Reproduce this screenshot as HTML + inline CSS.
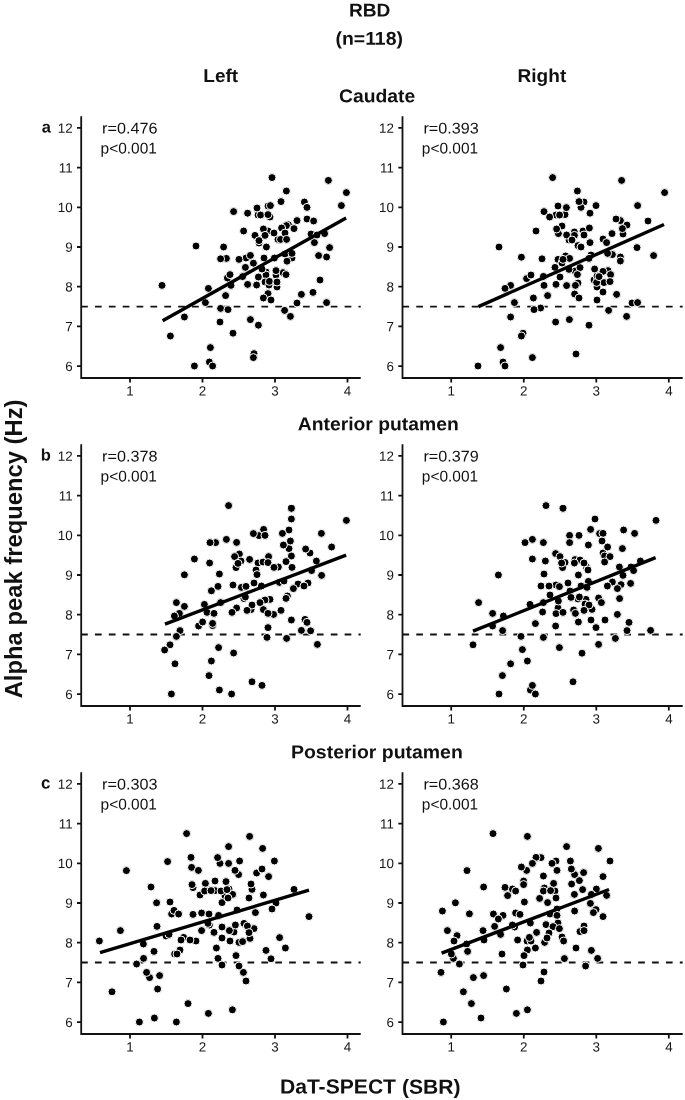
<!DOCTYPE html>
<html lang="en">
<head>
<meta charset="utf-8">
<title>RBD (n=118) – Alpha peak frequency vs DaT-SPECT (SBR)</title>
<style>
html,body{margin:0;padding:0;background:#fff}
body{width:685px;height:1100px;overflow:hidden}
svg{display:block;font-family:"Liberation Sans", sans-serif;filter:grayscale(1)}
.t{font-weight:700;fill:#111}
.tk{fill:#161616}
.st{fill:#111}
.ax{stroke:#111;stroke-width:1.8;fill:none;stroke-linecap:butt}
.d circle{fill:#000;stroke:#fff;stroke-width:1}
.rg{stroke:#000;stroke-width:3.4;stroke-linecap:butt}
.ds{stroke:#111;stroke-width:1.9;stroke-dasharray:6.7 7.17}
</style>
</head>
<body>
<svg width="685" height="1100" viewBox="0 0 685 1100">
<rect width="685" height="1100" fill="#fff"/>
<text class="t" transform="translate(369.60,16.40) rotate(0.05) scale(1.035,1)" font-size="18.5" text-anchor="middle">RBD</text>
<text class="t" transform="translate(369.20,44.80) rotate(0.05) scale(1.050,1)" font-size="18.5" text-anchor="middle">(n=118)</text>
<text class="t" transform="translate(220.70,82.00) rotate(0.05) scale(1.030,1)" font-size="18.5" text-anchor="middle">Left</text>
<text class="t" transform="translate(541.90,82.00) rotate(0.05) scale(1.030,1)" font-size="18.5" text-anchor="middle">Right</text>
<text class="t" transform="translate(377.10,102.20) rotate(0.05) scale(1.045,1)" font-size="18.5" text-anchor="middle">Caudate</text>
<text class="t" transform="translate(378.20,430.20) rotate(0.05) scale(1.045,1)" font-size="18.5" text-anchor="middle">Anterior putamen</text>
<text class="t" transform="translate(376.90,758.20) rotate(0.05) scale(1.052,1)" font-size="18.5" text-anchor="middle">Posterior putamen</text>
<text class="t" transform="translate(22.2,548.9) rotate(-90)" font-size="23.8" text-anchor="middle">Alpha peak frequency (Hz)</text>
<text class="t" transform="translate(370.20,1093.60) rotate(0.05) scale(1.035,1)" font-size="20.4" text-anchor="middle">DaT-SPECT (SBR)</text>
<text class="t" transform="translate(41.80,132.60) rotate(0.05) scale(1.000,1)" font-size="16.5" text-anchor="start">a</text>
<g>
<line class="ds" x1="81.1" y1="306.6" x2="360.7" y2="306.6"/>
<g class="d">
<circle cx="268.0" cy="206.0" r="4"/><circle cx="258.0" cy="215.0" r="4"/><circle cx="270.0" cy="217.0" r="4"/><circle cx="268.0" cy="231.0" r="4"/><circle cx="259.0" cy="243.0" r="4"/><circle cx="226.4" cy="258.4" r="4"/><circle cx="246.0" cy="258.0" r="4"/><circle cx="266.0" cy="272.0" r="4"/><circle cx="227.4" cy="278.0" r="4"/><circle cx="266.0" cy="275.0" r="4"/><circle cx="265.0" cy="282.0" r="4"/><circle cx="269.0" cy="285.0" r="4"/><circle cx="254.0" cy="353.6" r="4"/><circle cx="209.4" cy="362.0" r="4"/><circle cx="288.4" cy="224.8" r="4"/><circle cx="286.4" cy="225.6" r="4"/><circle cx="278.0" cy="239.4" r="4"/><circle cx="280.6" cy="239.4" r="4"/><circle cx="292.0" cy="258.0" r="4"/><circle cx="276.0" cy="275.0" r="4"/><circle cx="283.0" cy="272.6" r="4"/><circle cx="277.0" cy="287.0" r="4"/><circle cx="272.0" cy="177.6" r="4"/><circle cx="270.4" cy="205.6" r="4"/><circle cx="257.0" cy="208.0" r="4"/><circle cx="233.6" cy="211.6" r="4"/><circle cx="247.6" cy="213.2" r="4"/><circle cx="260.6" cy="215.0" r="4"/><circle cx="268.0" cy="214.6" r="4"/><circle cx="263.4" cy="229.0" r="4"/><circle cx="243.6" cy="231.0" r="4"/><circle cx="255.0" cy="235.4" r="4"/><circle cx="265.0" cy="235.4" r="4"/><circle cx="274.0" cy="233.0" r="4"/><circle cx="259.0" cy="240.6" r="4"/><circle cx="266.4" cy="247.0" r="4"/><circle cx="196.0" cy="246.0" r="4"/><circle cx="223.6" cy="247.0" r="4"/><circle cx="220.6" cy="258.8" r="4"/><circle cx="239.0" cy="259.4" r="4"/><circle cx="250.4" cy="255.4" r="4"/><circle cx="264.0" cy="258.0" r="4"/><circle cx="274.4" cy="258.0" r="4"/><circle cx="253.4" cy="263.2" r="4"/><circle cx="245.4" cy="267.4" r="4"/><circle cx="262.0" cy="269.0" r="4"/><circle cx="276.0" cy="270.6" r="4"/><circle cx="230.0" cy="274.6" r="4"/><circle cx="242.6" cy="276.6" r="4"/><circle cx="258.4" cy="277.0" r="4"/><circle cx="269.4" cy="281.4" r="4"/><circle cx="231.0" cy="285.4" r="4"/><circle cx="247.6" cy="284.4" r="4"/><circle cx="256.6" cy="285.0" r="4"/><circle cx="162.0" cy="285.4" r="4"/><circle cx="208.4" cy="288.4" r="4"/><circle cx="225.6" cy="295.6" r="4"/><circle cx="268.0" cy="293.6" r="4"/><circle cx="263.4" cy="298.0" r="4"/><circle cx="271.0" cy="300.0" r="4"/><circle cx="205.4" cy="302.6" r="4"/><circle cx="220.6" cy="308.4" r="4"/><circle cx="228.0" cy="309.6" r="4"/><circle cx="184.4" cy="317.0" r="4"/><circle cx="220.0" cy="322.0" r="4"/><circle cx="250.4" cy="319.6" r="4"/><circle cx="258.4" cy="325.2" r="4"/><circle cx="233.0" cy="333.2" r="4"/><circle cx="170.4" cy="336.0" r="4"/><circle cx="210.4" cy="347.6" r="4"/><circle cx="253.4" cy="357.6" r="4"/><circle cx="194.4" cy="366.0" r="4"/><circle cx="212.6" cy="366.0" r="4"/><circle cx="286.4" cy="191.0" r="4"/><circle cx="328.4" cy="180.4" r="4"/><circle cx="346.4" cy="192.6" r="4"/><circle cx="281.0" cy="201.6" r="4"/><circle cx="304.4" cy="202.0" r="4"/><circle cx="307.0" cy="207.4" r="4"/><circle cx="341.4" cy="205.6" r="4"/><circle cx="297.0" cy="220.6" r="4"/><circle cx="307.0" cy="219.0" r="4"/><circle cx="313.6" cy="221.0" r="4"/><circle cx="281.6" cy="228.0" r="4"/><circle cx="294.0" cy="228.6" r="4"/><circle cx="285.0" cy="233.0" r="4"/><circle cx="286.6" cy="239.4" r="4"/><circle cx="311.0" cy="234.0" r="4"/><circle cx="317.0" cy="235.0" r="4"/><circle cx="324.6" cy="233.6" r="4"/><circle cx="314.4" cy="242.6" r="4"/><circle cx="329.6" cy="247.6" r="4"/><circle cx="318.6" cy="255.6" r="4"/><circle cx="326.6" cy="257.0" r="4"/><circle cx="285.0" cy="254.0" r="4"/><circle cx="292.0" cy="253.4" r="4"/><circle cx="287.0" cy="261.2" r="4"/><circle cx="286.0" cy="274.6" r="4"/><circle cx="277.0" cy="282.0" r="4"/><circle cx="320.0" cy="280.0" r="4"/><circle cx="301.4" cy="294.4" r="4"/><circle cx="313.0" cy="292.4" r="4"/><circle cx="297.0" cy="303.0" r="4"/><circle cx="326.6" cy="302.6" r="4"/><circle cx="284.6" cy="310.4" r="4"/><circle cx="290.4" cy="316.4" r="4"/>
</g>
<line class="rg" x1="162.6" y1="320.8" x2="346.1" y2="218.0"/>
<path class="ax" d="M81.2 116.2V378.0H360.7M81.2 366.1h-4.2M81.2 326.4h-4.2M81.2 286.7h-4.2M81.2 247.0h-4.2M81.2 207.3h-4.2M81.2 167.6h-4.2M81.2 127.9h-4.2M130.0 378.0v4.4M202.5 378.0v4.4M275.0 378.0v4.4M347.5 378.0v4.4"/>
<text class="tk" transform="translate(72.60,370.90) rotate(0.05) scale(1.000,1)" font-size="13.4" text-anchor="end">6</text>
<text class="tk" transform="translate(72.60,331.20) rotate(0.05) scale(1.000,1)" font-size="13.4" text-anchor="end">7</text>
<text class="tk" transform="translate(72.60,291.50) rotate(0.05) scale(1.000,1)" font-size="13.4" text-anchor="end">8</text>
<text class="tk" transform="translate(72.60,251.80) rotate(0.05) scale(1.000,1)" font-size="13.4" text-anchor="end">9</text>
<text class="tk" transform="translate(72.60,212.10) rotate(0.05) scale(1.000,1)" font-size="13.4" text-anchor="end">10</text>
<text class="tk" transform="translate(72.60,172.40) rotate(0.05) scale(1.000,1)" font-size="13.4" text-anchor="end">11</text>
<text class="tk" transform="translate(72.60,132.70) rotate(0.05) scale(1.000,1)" font-size="13.4" text-anchor="end">12</text>
<text class="tk" transform="translate(130.00,395.60) rotate(0.05) scale(1.000,1)" font-size="13.4" text-anchor="middle">1</text>
<text class="tk" transform="translate(202.50,395.60) rotate(0.05) scale(1.000,1)" font-size="13.4" text-anchor="middle">2</text>
<text class="tk" transform="translate(275.00,395.60) rotate(0.05) scale(1.000,1)" font-size="13.4" text-anchor="middle">3</text>
<text class="tk" transform="translate(347.50,395.60) rotate(0.05) scale(1.000,1)" font-size="13.4" text-anchor="middle">4</text>
<text class="st" transform="translate(129.80,133.60) rotate(0.05) scale(1.045,1)" font-size="15.5" text-anchor="middle">r=0.476</text>
<text class="st" transform="translate(128.70,153.40) rotate(0.05) scale(0.997,1)" font-size="15.5" text-anchor="middle">p&lt;0.001</text>
</g>
<g>
<line class="ds" x1="402.4" y1="306.6" x2="682.7" y2="306.6"/>
<g class="d">
<circle cx="584.0" cy="202.0" r="4"/><circle cx="581.0" cy="207.4" r="4"/><circle cx="565.0" cy="214.6" r="4"/><circle cx="556.0" cy="215.0" r="4"/><circle cx="558.4" cy="233.6" r="4"/><circle cx="574.4" cy="232.0" r="4"/><circle cx="569.0" cy="240.0" r="4"/><circle cx="583.0" cy="231.0" r="4"/><circle cx="578.0" cy="245.6" r="4"/><circle cx="565.6" cy="256.0" r="4"/><circle cx="558.0" cy="259.4" r="4"/><circle cx="562.0" cy="263.0" r="4"/><circle cx="591.0" cy="255.0" r="4"/><circle cx="575.0" cy="271.0" r="4"/><circle cx="526.6" cy="278.6" r="4"/><circle cx="578.0" cy="283.0" r="4"/><circle cx="594.0" cy="280.0" r="4"/><circle cx="597.0" cy="276.0" r="4"/><circle cx="597.0" cy="287.0" r="4"/><circle cx="523.0" cy="333.2" r="4"/><circle cx="503.0" cy="362.0" r="4"/><circle cx="620.4" cy="220.6" r="4"/><circle cx="627.0" cy="225.0" r="4"/><circle cx="623.0" cy="234.0" r="4"/><circle cx="603.0" cy="239.0" r="4"/><circle cx="612.4" cy="254.6" r="4"/><circle cx="620.4" cy="257.0" r="4"/><circle cx="608.0" cy="270.6" r="4"/><circle cx="603.0" cy="271.4" r="4"/><circle cx="604.0" cy="282.6" r="4"/><circle cx="632.0" cy="303.0" r="4"/><circle cx="552.6" cy="177.6" r="4"/><circle cx="577.4" cy="191.0" r="4"/><circle cx="579.0" cy="201.6" r="4"/><circle cx="596.0" cy="205.6" r="4"/><circle cx="558.0" cy="206.0" r="4"/><circle cx="566.4" cy="207.6" r="4"/><circle cx="544.0" cy="211.6" r="4"/><circle cx="549.6" cy="217.0" r="4"/><circle cx="559.6" cy="215.0" r="4"/><circle cx="590.0" cy="213.2" r="4"/><circle cx="562.0" cy="226.0" r="4"/><circle cx="556.6" cy="229.0" r="4"/><circle cx="536.0" cy="231.0" r="4"/><circle cx="589.4" cy="228.0" r="4"/><circle cx="566.6" cy="235.0" r="4"/><circle cx="574.4" cy="235.4" r="4"/><circle cx="572.0" cy="240.0" r="4"/><circle cx="584.0" cy="235.0" r="4"/><circle cx="590.0" cy="242.6" r="4"/><circle cx="581.0" cy="247.0" r="4"/><circle cx="499.0" cy="247.0" r="4"/><circle cx="521.4" cy="257.2" r="4"/><circle cx="542.0" cy="258.8" r="4"/><circle cx="569.6" cy="258.4" r="4"/><circle cx="563.0" cy="259.4" r="4"/><circle cx="589.0" cy="258.4" r="4"/><circle cx="555.0" cy="267.4" r="4"/><circle cx="569.0" cy="269.4" r="4"/><circle cx="580.0" cy="267.6" r="4"/><circle cx="577.4" cy="274.6" r="4"/><circle cx="594.6" cy="269.0" r="4"/><circle cx="543.4" cy="276.4" r="4"/><circle cx="560.0" cy="277.0" r="4"/><circle cx="531.0" cy="275.0" r="4"/><circle cx="510.6" cy="285.4" r="4"/><circle cx="505.0" cy="288.4" r="4"/><circle cx="544.0" cy="285.4" r="4"/><circle cx="556.0" cy="284.4" r="4"/><circle cx="566.6" cy="285.6" r="4"/><circle cx="575.4" cy="285.4" r="4"/><circle cx="596.6" cy="282.4" r="4"/><circle cx="574.6" cy="294.0" r="4"/><circle cx="579.0" cy="298.0" r="4"/><circle cx="547.6" cy="295.6" r="4"/><circle cx="533.4" cy="298.0" r="4"/><circle cx="514.4" cy="302.6" r="4"/><circle cx="597.0" cy="300.0" r="4"/><circle cx="540.6" cy="308.0" r="4"/><circle cx="534.0" cy="309.6" r="4"/><circle cx="510.6" cy="317.0" r="4"/><circle cx="555.6" cy="322.0" r="4"/><circle cx="569.4" cy="319.6" r="4"/><circle cx="589.0" cy="325.2" r="4"/><circle cx="521.4" cy="336.0" r="4"/><circle cx="500.6" cy="347.6" r="4"/><circle cx="532.4" cy="357.6" r="4"/><circle cx="576.0" cy="354.0" r="4"/><circle cx="478.0" cy="366.0" r="4"/><circle cx="505.0" cy="366.0" r="4"/><circle cx="621.6" cy="180.4" r="4"/><circle cx="664.6" cy="192.6" r="4"/><circle cx="637.6" cy="205.6" r="4"/><circle cx="616.0" cy="219.0" r="4"/><circle cx="622.4" cy="228.6" r="4"/><circle cx="648.0" cy="221.0" r="4"/><circle cx="612.0" cy="233.6" r="4"/><circle cx="606.6" cy="242.6" r="4"/><circle cx="637.0" cy="247.6" r="4"/><circle cx="607.6" cy="253.4" r="4"/><circle cx="620.4" cy="261.0" r="4"/><circle cx="653.6" cy="255.6" r="4"/><circle cx="610.6" cy="274.6" r="4"/><circle cx="599.0" cy="276.6" r="4"/><circle cx="610.0" cy="281.6" r="4"/><circle cx="603.0" cy="292.0" r="4"/><circle cx="616.6" cy="294.4" r="4"/><circle cx="637.6" cy="302.6" r="4"/><circle cx="608.6" cy="310.4" r="4"/><circle cx="626.6" cy="316.4" r="4"/>
</g>
<line class="rg" x1="478.4" y1="306.6" x2="664.0" y2="224.5"/>
<path class="ax" d="M402.5 116.2V378.0H682.7M402.5 366.1h-4.2M402.5 326.4h-4.2M402.5 286.7h-4.2M402.5 247.0h-4.2M402.5 207.3h-4.2M402.5 167.6h-4.2M402.5 127.9h-4.2M451.2 378.0v4.4M523.8 378.0v4.4M596.3 378.0v4.4M668.8 378.0v4.4"/>
<text class="tk" transform="translate(393.90,370.90) rotate(0.05) scale(1.000,1)" font-size="13.4" text-anchor="end">6</text>
<text class="tk" transform="translate(393.90,331.20) rotate(0.05) scale(1.000,1)" font-size="13.4" text-anchor="end">7</text>
<text class="tk" transform="translate(393.90,291.50) rotate(0.05) scale(1.000,1)" font-size="13.4" text-anchor="end">8</text>
<text class="tk" transform="translate(393.90,251.80) rotate(0.05) scale(1.000,1)" font-size="13.4" text-anchor="end">9</text>
<text class="tk" transform="translate(393.90,212.10) rotate(0.05) scale(1.000,1)" font-size="13.4" text-anchor="end">10</text>
<text class="tk" transform="translate(393.90,172.40) rotate(0.05) scale(1.000,1)" font-size="13.4" text-anchor="end">11</text>
<text class="tk" transform="translate(393.90,132.70) rotate(0.05) scale(1.000,1)" font-size="13.4" text-anchor="end">12</text>
<text class="tk" transform="translate(451.20,395.60) rotate(0.05) scale(1.000,1)" font-size="13.4" text-anchor="middle">1</text>
<text class="tk" transform="translate(523.75,395.60) rotate(0.05) scale(1.000,1)" font-size="13.4" text-anchor="middle">2</text>
<text class="tk" transform="translate(596.30,395.60) rotate(0.05) scale(1.000,1)" font-size="13.4" text-anchor="middle">3</text>
<text class="tk" transform="translate(668.85,395.60) rotate(0.05) scale(1.000,1)" font-size="13.4" text-anchor="middle">4</text>
<text class="st" transform="translate(451.10,133.60) rotate(0.05) scale(1.045,1)" font-size="15.5" text-anchor="middle">r=0.393</text>
<text class="st" transform="translate(450.00,153.40) rotate(0.05) scale(0.997,1)" font-size="15.5" text-anchor="middle">p&lt;0.001</text>
</g>
<text class="t" transform="translate(40.70,460.60) rotate(0.05) scale(1.000,1)" font-size="16.5" text-anchor="start">b</text>
<g>
<line class="ds" x1="81.1" y1="634.5" x2="360.7" y2="634.5"/>
<g class="d">
<circle cx="259.0" cy="535.6" r="4"/><circle cx="215.6" cy="542.6" r="4"/><circle cx="239.4" cy="554.0" r="4"/><circle cx="241.0" cy="561.0" r="4"/><circle cx="258.0" cy="563.0" r="4"/><circle cx="263.0" cy="562.0" r="4"/><circle cx="236.0" cy="567.6" r="4"/><circle cx="256.0" cy="570.0" r="4"/><circle cx="241.4" cy="587.4" r="4"/><circle cx="244.0" cy="598.6" r="4"/><circle cx="270.0" cy="599.4" r="4"/><circle cx="265.0" cy="600.0" r="4"/><circle cx="236.6" cy="608.0" r="4"/><circle cx="251.0" cy="609.6" r="4"/><circle cx="273.6" cy="614.4" r="4"/><circle cx="179.4" cy="613.4" r="4"/><circle cx="198.6" cy="626.0" r="4"/><circle cx="212.6" cy="625.6" r="4"/><circle cx="289.0" cy="548.6" r="4"/><circle cx="310.0" cy="553.0" r="4"/><circle cx="278.4" cy="567.0" r="4"/><circle cx="279.4" cy="582.4" r="4"/><circle cx="298.0" cy="584.0" r="4"/><circle cx="308.0" cy="583.0" r="4"/><circle cx="287.4" cy="596.0" r="4"/><circle cx="305.0" cy="619.4" r="4"/><circle cx="228.6" cy="505.6" r="4"/><circle cx="263.6" cy="529.4" r="4"/><circle cx="253.4" cy="533.6" r="4"/><circle cx="265.0" cy="535.4" r="4"/><circle cx="226.4" cy="539.4" r="4"/><circle cx="236.6" cy="542.4" r="4"/><circle cx="210.0" cy="542.6" r="4"/><circle cx="234.6" cy="556.6" r="4"/><circle cx="194.4" cy="559.0" r="4"/><circle cx="268.6" cy="556.6" r="4"/><circle cx="249.6" cy="559.4" r="4"/><circle cx="238.0" cy="563.4" r="4"/><circle cx="209.6" cy="563.0" r="4"/><circle cx="268.0" cy="562.6" r="4"/><circle cx="274.0" cy="567.4" r="4"/><circle cx="257.0" cy="574.6" r="4"/><circle cx="219.4" cy="574.0" r="4"/><circle cx="184.4" cy="574.8" r="4"/><circle cx="254.0" cy="583.0" r="4"/><circle cx="233.0" cy="585.0" r="4"/><circle cx="218.0" cy="586.4" r="4"/><circle cx="246.0" cy="586.4" r="4"/><circle cx="261.4" cy="586.0" r="4"/><circle cx="211.4" cy="590.8" r="4"/><circle cx="245.4" cy="597.0" r="4"/><circle cx="260.0" cy="602.6" r="4"/><circle cx="176.4" cy="602.6" r="4"/><circle cx="184.4" cy="606.4" r="4"/><circle cx="204.4" cy="604.4" r="4"/><circle cx="220.6" cy="602.6" r="4"/><circle cx="252.0" cy="605.0" r="4"/><circle cx="232.0" cy="612.4" r="4"/><circle cx="247.0" cy="610.4" r="4"/><circle cx="263.4" cy="609.6" r="4"/><circle cx="268.0" cy="613.4" r="4"/><circle cx="174.4" cy="616.0" r="4"/><circle cx="207.0" cy="612.4" r="4"/><circle cx="214.0" cy="613.4" r="4"/><circle cx="202.6" cy="622.0" r="4"/><circle cx="212.6" cy="623.4" r="4"/><circle cx="268.0" cy="627.6" r="4"/><circle cx="180.0" cy="630.6" r="4"/><circle cx="176.4" cy="636.4" r="4"/><circle cx="267.0" cy="637.4" r="4"/><circle cx="170.0" cy="644.8" r="4"/><circle cx="164.6" cy="650.0" r="4"/><circle cx="218.6" cy="647.6" r="4"/><circle cx="233.6" cy="653.0" r="4"/><circle cx="211.4" cy="661.0" r="4"/><circle cx="175.0" cy="663.8" r="4"/><circle cx="209.0" cy="675.6" r="4"/><circle cx="252.0" cy="681.8" r="4"/><circle cx="262.0" cy="685.4" r="4"/><circle cx="219.4" cy="690.0" r="4"/><circle cx="171.4" cy="694.0" r="4"/><circle cx="231.6" cy="694.0" r="4"/><circle cx="291.4" cy="508.4" r="4"/><circle cx="291.4" cy="519.0" r="4"/><circle cx="346.4" cy="520.4" r="4"/><circle cx="289.0" cy="530.0" r="4"/><circle cx="282.4" cy="533.4" r="4"/><circle cx="321.4" cy="533.4" r="4"/><circle cx="290.4" cy="541.0" r="4"/><circle cx="283.4" cy="545.0" r="4"/><circle cx="331.6" cy="547.0" r="4"/><circle cx="305.6" cy="549.0" r="4"/><circle cx="291.4" cy="556.0" r="4"/><circle cx="286.0" cy="561.6" r="4"/><circle cx="316.4" cy="561.0" r="4"/><circle cx="292.0" cy="567.4" r="4"/><circle cx="311.6" cy="570.6" r="4"/><circle cx="321.6" cy="575.4" r="4"/><circle cx="284.0" cy="581.0" r="4"/><circle cx="304.0" cy="586.0" r="4"/><circle cx="293.4" cy="588.6" r="4"/><circle cx="286.0" cy="598.4" r="4"/><circle cx="281.0" cy="610.4" r="4"/><circle cx="291.4" cy="620.0" r="4"/><circle cx="307.0" cy="622.4" r="4"/><circle cx="301.4" cy="630.4" r="4"/><circle cx="310.6" cy="630.8" r="4"/><circle cx="286.6" cy="638.4" r="4"/><circle cx="317.4" cy="644.4" r="4"/>
</g>
<line class="rg" x1="165.0" y1="624.2" x2="346.1" y2="555.1"/>
<path class="ax" d="M81.2 444.2V706.0H360.7M81.2 694.1h-4.2M81.2 654.4h-4.2M81.2 614.7h-4.2M81.2 575.0h-4.2M81.2 535.3h-4.2M81.2 495.6h-4.2M81.2 455.9h-4.2M130.0 706.0v4.4M202.5 706.0v4.4M275.0 706.0v4.4M347.5 706.0v4.4"/>
<text class="tk" transform="translate(72.60,698.90) rotate(0.05) scale(1.000,1)" font-size="13.4" text-anchor="end">6</text>
<text class="tk" transform="translate(72.60,659.20) rotate(0.05) scale(1.000,1)" font-size="13.4" text-anchor="end">7</text>
<text class="tk" transform="translate(72.60,619.50) rotate(0.05) scale(1.000,1)" font-size="13.4" text-anchor="end">8</text>
<text class="tk" transform="translate(72.60,579.80) rotate(0.05) scale(1.000,1)" font-size="13.4" text-anchor="end">9</text>
<text class="tk" transform="translate(72.60,540.10) rotate(0.05) scale(1.000,1)" font-size="13.4" text-anchor="end">10</text>
<text class="tk" transform="translate(72.60,500.40) rotate(0.05) scale(1.000,1)" font-size="13.4" text-anchor="end">11</text>
<text class="tk" transform="translate(72.60,460.70) rotate(0.05) scale(1.000,1)" font-size="13.4" text-anchor="end">12</text>
<text class="tk" transform="translate(130.00,723.60) rotate(0.05) scale(1.000,1)" font-size="13.4" text-anchor="middle">1</text>
<text class="tk" transform="translate(202.50,723.60) rotate(0.05) scale(1.000,1)" font-size="13.4" text-anchor="middle">2</text>
<text class="tk" transform="translate(275.00,723.60) rotate(0.05) scale(1.000,1)" font-size="13.4" text-anchor="middle">3</text>
<text class="tk" transform="translate(347.50,723.60) rotate(0.05) scale(1.000,1)" font-size="13.4" text-anchor="middle">4</text>
<text class="st" transform="translate(129.80,461.60) rotate(0.05) scale(1.045,1)" font-size="15.5" text-anchor="middle">r=0.378</text>
<text class="st" transform="translate(128.70,481.40) rotate(0.05) scale(0.997,1)" font-size="15.5" text-anchor="middle">p&lt;0.001</text>
</g>
<g>
<line class="ds" x1="402.4" y1="634.5" x2="682.7" y2="634.5"/>
<g class="d">
<circle cx="555.6" cy="553.6" r="4"/><circle cx="575.0" cy="559.6" r="4"/><circle cx="580.0" cy="560.0" r="4"/><circle cx="565.0" cy="562.4" r="4"/><circle cx="562.6" cy="567.6" r="4"/><circle cx="586.4" cy="567.0" r="4"/><circle cx="588.0" cy="570.0" r="4"/><circle cx="556.0" cy="585.0" r="4"/><circle cx="578.0" cy="599.0" r="4"/><circle cx="586.0" cy="599.4" r="4"/><circle cx="585.0" cy="604.0" r="4"/><circle cx="592.0" cy="609.4" r="4"/><circle cx="558.0" cy="608.0" r="4"/><circle cx="573.6" cy="610.0" r="4"/><circle cx="530.4" cy="690.0" r="4"/><circle cx="599.6" cy="533.6" r="4"/><circle cx="603.0" cy="553.0" r="4"/><circle cx="612.4" cy="582.0" r="4"/><circle cx="621.0" cy="584.6" r="4"/><circle cx="598.6" cy="598.0" r="4"/><circle cx="546.0" cy="505.6" r="4"/><circle cx="563.0" cy="508.4" r="4"/><circle cx="595.0" cy="519.0" r="4"/><circle cx="590.6" cy="529.4" r="4"/><circle cx="569.6" cy="535.4" r="4"/><circle cx="579.0" cy="535.4" r="4"/><circle cx="532.4" cy="539.4" r="4"/><circle cx="525.0" cy="542.6" r="4"/><circle cx="543.4" cy="542.6" r="4"/><circle cx="569.6" cy="542.6" r="4"/><circle cx="588.4" cy="545.0" r="4"/><circle cx="560.0" cy="556.6" r="4"/><circle cx="532.4" cy="559.0" r="4"/><circle cx="545.4" cy="561.0" r="4"/><circle cx="561.6" cy="563.0" r="4"/><circle cx="574.4" cy="563.0" r="4"/><circle cx="584.0" cy="563.0" r="4"/><circle cx="544.0" cy="574.0" r="4"/><circle cx="578.4" cy="575.0" r="4"/><circle cx="498.4" cy="575.0" r="4"/><circle cx="568.0" cy="583.0" r="4"/><circle cx="588.4" cy="581.4" r="4"/><circle cx="541.0" cy="586.0" r="4"/><circle cx="549.0" cy="586.0" r="4"/><circle cx="559.4" cy="586.6" r="4"/><circle cx="581.0" cy="586.0" r="4"/><circle cx="587.0" cy="587.4" r="4"/><circle cx="570.0" cy="591.0" r="4"/><circle cx="550.0" cy="595.0" r="4"/><circle cx="571.0" cy="597.4" r="4"/><circle cx="579.4" cy="597.0" r="4"/><circle cx="478.6" cy="602.6" r="4"/><circle cx="530.0" cy="604.4" r="4"/><circle cx="543.4" cy="602.6" r="4"/><circle cx="558.4" cy="601.0" r="4"/><circle cx="589.0" cy="605.0" r="4"/><circle cx="584.0" cy="610.4" r="4"/><circle cx="556.0" cy="613.6" r="4"/><circle cx="563.0" cy="612.4" r="4"/><circle cx="542.6" cy="612.0" r="4"/><circle cx="575.4" cy="613.4" r="4"/><circle cx="492.6" cy="613.4" r="4"/><circle cx="503.4" cy="616.0" r="4"/><circle cx="591.0" cy="620.0" r="4"/><circle cx="578.4" cy="622.0" r="4"/><circle cx="535.4" cy="623.6" r="4"/><circle cx="555.6" cy="626.0" r="4"/><circle cx="492.6" cy="626.0" r="4"/><circle cx="502.6" cy="630.6" r="4"/><circle cx="596.0" cy="627.6" r="4"/><circle cx="521.0" cy="636.4" r="4"/><circle cx="543.4" cy="637.4" r="4"/><circle cx="473.0" cy="644.8" r="4"/><circle cx="522.4" cy="649.6" r="4"/><circle cx="559.4" cy="647.6" r="4"/><circle cx="582.0" cy="653.2" r="4"/><circle cx="527.4" cy="661.0" r="4"/><circle cx="510.6" cy="663.8" r="4"/><circle cx="502.4" cy="675.6" r="4"/><circle cx="573.0" cy="681.8" r="4"/><circle cx="532.4" cy="685.4" r="4"/><circle cx="499.0" cy="694.0" r="4"/><circle cx="535.4" cy="694.0" r="4"/><circle cx="656.0" cy="520.4" r="4"/><circle cx="623.6" cy="530.0" r="4"/><circle cx="634.6" cy="533.4" r="4"/><circle cx="603.0" cy="533.4" r="4"/><circle cx="602.0" cy="541.0" r="4"/><circle cx="607.6" cy="547.0" r="4"/><circle cx="622.4" cy="548.6" r="4"/><circle cx="604.6" cy="556.0" r="4"/><circle cx="610.0" cy="556.6" r="4"/><circle cx="604.6" cy="562.0" r="4"/><circle cx="640.4" cy="561.0" r="4"/><circle cx="619.4" cy="567.0" r="4"/><circle cx="631.0" cy="567.0" r="4"/><circle cx="633.6" cy="570.6" r="4"/><circle cx="623.0" cy="575.4" r="4"/><circle cx="630.6" cy="583.4" r="4"/><circle cx="607.4" cy="586.0" r="4"/><circle cx="617.4" cy="588.6" r="4"/><circle cx="619.6" cy="598.6" r="4"/><circle cx="601.4" cy="602.6" r="4"/><circle cx="617.4" cy="614.4" r="4"/><circle cx="605.0" cy="620.0" r="4"/><circle cx="629.0" cy="622.4" r="4"/><circle cx="627.0" cy="630.6" r="4"/><circle cx="650.6" cy="630.4" r="4"/><circle cx="615.4" cy="638.4" r="4"/><circle cx="598.6" cy="644.4" r="4"/>
</g>
<line class="rg" x1="473.0" y1="631.1" x2="655.6" y2="557.7"/>
<path class="ax" d="M402.5 444.2V706.0H682.7M402.5 694.1h-4.2M402.5 654.4h-4.2M402.5 614.7h-4.2M402.5 575.0h-4.2M402.5 535.3h-4.2M402.5 495.6h-4.2M402.5 455.9h-4.2M451.2 706.0v4.4M523.8 706.0v4.4M596.3 706.0v4.4M668.8 706.0v4.4"/>
<text class="tk" transform="translate(393.90,698.90) rotate(0.05) scale(1.000,1)" font-size="13.4" text-anchor="end">6</text>
<text class="tk" transform="translate(393.90,659.20) rotate(0.05) scale(1.000,1)" font-size="13.4" text-anchor="end">7</text>
<text class="tk" transform="translate(393.90,619.50) rotate(0.05) scale(1.000,1)" font-size="13.4" text-anchor="end">8</text>
<text class="tk" transform="translate(393.90,579.80) rotate(0.05) scale(1.000,1)" font-size="13.4" text-anchor="end">9</text>
<text class="tk" transform="translate(393.90,540.10) rotate(0.05) scale(1.000,1)" font-size="13.4" text-anchor="end">10</text>
<text class="tk" transform="translate(393.90,500.40) rotate(0.05) scale(1.000,1)" font-size="13.4" text-anchor="end">11</text>
<text class="tk" transform="translate(393.90,460.70) rotate(0.05) scale(1.000,1)" font-size="13.4" text-anchor="end">12</text>
<text class="tk" transform="translate(451.20,723.60) rotate(0.05) scale(1.000,1)" font-size="13.4" text-anchor="middle">1</text>
<text class="tk" transform="translate(523.75,723.60) rotate(0.05) scale(1.000,1)" font-size="13.4" text-anchor="middle">2</text>
<text class="tk" transform="translate(596.30,723.60) rotate(0.05) scale(1.000,1)" font-size="13.4" text-anchor="middle">3</text>
<text class="tk" transform="translate(668.85,723.60) rotate(0.05) scale(1.000,1)" font-size="13.4" text-anchor="middle">4</text>
<text class="st" transform="translate(451.10,461.60) rotate(0.05) scale(1.045,1)" font-size="15.5" text-anchor="middle">r=0.379</text>
<text class="st" transform="translate(450.00,481.40) rotate(0.05) scale(0.997,1)" font-size="15.5" text-anchor="middle">p&lt;0.001</text>
</g>
<text class="t" transform="translate(41.00,788.60) rotate(0.05) scale(1.000,1)" font-size="17" text-anchor="start">c</text>
<g>
<line class="ds" x1="81.1" y1="962.5" x2="360.7" y2="962.5"/>
<g class="d">
<circle cx="220.0" cy="863.4" r="4"/><circle cx="193.0" cy="887.6" r="4"/><circle cx="200.0" cy="895.0" r="4"/><circle cx="215.0" cy="890.6" r="4"/><circle cx="171.6" cy="914.0" r="4"/><circle cx="209.4" cy="925.0" r="4"/><circle cx="166.0" cy="936.0" r="4"/><circle cx="183.6" cy="937.4" r="4"/><circle cx="196.0" cy="941.0" r="4"/><circle cx="174.6" cy="954.0" r="4"/><circle cx="149.6" cy="977.6" r="4"/><circle cx="238.6" cy="874.6" r="4"/><circle cx="256.6" cy="873.0" r="4"/><circle cx="252.0" cy="889.4" r="4"/><circle cx="229.0" cy="889.0" r="4"/><circle cx="232.6" cy="894.4" r="4"/><circle cx="225.0" cy="896.0" r="4"/><circle cx="244.0" cy="923.4" r="4"/><circle cx="254.0" cy="928.6" r="4"/><circle cx="234.0" cy="932.0" r="4"/><circle cx="250.0" cy="938.4" r="4"/><circle cx="239.0" cy="942.4" r="4"/><circle cx="186.6" cy="833.6" r="4"/><circle cx="191.0" cy="857.4" r="4"/><circle cx="217.6" cy="857.6" r="4"/><circle cx="167.6" cy="861.6" r="4"/><circle cx="191.6" cy="867.4" r="4"/><circle cx="198.4" cy="870.4" r="4"/><circle cx="126.4" cy="870.6" r="4"/><circle cx="215.0" cy="881.0" r="4"/><circle cx="205.4" cy="883.4" r="4"/><circle cx="192.0" cy="884.6" r="4"/><circle cx="151.0" cy="887.0" r="4"/><circle cx="204.6" cy="891.0" r="4"/><circle cx="211.0" cy="890.6" r="4"/><circle cx="221.0" cy="891.0" r="4"/><circle cx="170.0" cy="902.0" r="4"/><circle cx="156.6" cy="902.8" r="4"/><circle cx="222.0" cy="902.6" r="4"/><circle cx="174.0" cy="910.4" r="4"/><circle cx="178.6" cy="914.0" r="4"/><circle cx="193.0" cy="914.4" r="4"/><circle cx="201.6" cy="913.0" r="4"/><circle cx="209.0" cy="914.0" r="4"/><circle cx="218.6" cy="915.4" r="4"/><circle cx="208.0" cy="923.4" r="4"/><circle cx="157.0" cy="926.4" r="4"/><circle cx="120.4" cy="930.6" r="4"/><circle cx="201.6" cy="930.6" r="4"/><circle cx="214.0" cy="932.4" r="4"/><circle cx="222.0" cy="927.0" r="4"/><circle cx="169.0" cy="934.4" r="4"/><circle cx="99.4" cy="941.0" r="4"/><circle cx="143.4" cy="944.0" r="4"/><circle cx="181.0" cy="940.0" r="4"/><circle cx="190.0" cy="940.0" r="4"/><circle cx="222.0" cy="938.0" r="4"/><circle cx="154.0" cy="951.4" r="4"/><circle cx="180.0" cy="950.0" r="4"/><circle cx="177.0" cy="954.0" r="4"/><circle cx="216.4" cy="948.0" r="4"/><circle cx="143.6" cy="958.4" r="4"/><circle cx="136.6" cy="964.0" r="4"/><circle cx="218.0" cy="958.4" r="4"/><circle cx="222.0" cy="965.0" r="4"/><circle cx="146.6" cy="972.4" r="4"/><circle cx="159.6" cy="975.6" r="4"/><circle cx="157.6" cy="989.0" r="4"/><circle cx="112.0" cy="991.8" r="4"/><circle cx="188.0" cy="1003.6" r="4"/><circle cx="208.4" cy="1013.4" r="4"/><circle cx="154.4" cy="1018.0" r="4"/><circle cx="139.4" cy="1022.0" r="4"/><circle cx="176.4" cy="1022.0" r="4"/><circle cx="249.6" cy="836.4" r="4"/><circle cx="228.6" cy="846.6" r="4"/><circle cx="262.6" cy="848.4" r="4"/><circle cx="239.6" cy="861.0" r="4"/><circle cx="228.6" cy="863.4" r="4"/><circle cx="274.4" cy="861.0" r="4"/><circle cx="235.0" cy="870.4" r="4"/><circle cx="262.0" cy="869.0" r="4"/><circle cx="268.6" cy="876.6" r="4"/><circle cx="226.0" cy="881.6" r="4"/><circle cx="251.0" cy="884.0" r="4"/><circle cx="227.0" cy="889.6" r="4"/><circle cx="228.0" cy="898.0" r="4"/><circle cx="249.0" cy="898.0" r="4"/><circle cx="263.4" cy="895.0" r="4"/><circle cx="294.0" cy="889.4" r="4"/><circle cx="276.0" cy="903.0" r="4"/><circle cx="272.0" cy="909.0" r="4"/><circle cx="237.0" cy="910.0" r="4"/><circle cx="255.4" cy="912.6" r="4"/><circle cx="309.0" cy="916.6" r="4"/><circle cx="235.4" cy="925.0" r="4"/><circle cx="247.4" cy="926.0" r="4"/><circle cx="229.4" cy="930.6" r="4"/><circle cx="249.0" cy="932.6" r="4"/><circle cx="230.0" cy="941.0" r="4"/><circle cx="242.6" cy="941.6" r="4"/><circle cx="279.6" cy="937.6" r="4"/><circle cx="285.4" cy="948.0" r="4"/><circle cx="266.0" cy="950.4" r="4"/><circle cx="236.0" cy="955.6" r="4"/><circle cx="271.0" cy="958.8" r="4"/><circle cx="239.0" cy="966.0" r="4"/><circle cx="243.4" cy="972.4" r="4"/><circle cx="246.0" cy="981.0" r="4"/><circle cx="232.4" cy="1009.8" r="4"/>
</g>
<line class="rg" x1="100.0" y1="952.7" x2="309.0" y2="890.1"/>
<path class="ax" d="M81.2 772.2V1034.0H360.7M81.2 1022.1h-4.2M81.2 982.4h-4.2M81.2 942.7h-4.2M81.2 903.0h-4.2M81.2 863.3h-4.2M81.2 823.6h-4.2M81.2 783.9h-4.2M130.0 1034.0v4.4M202.5 1034.0v4.4M275.0 1034.0v4.4M347.5 1034.0v4.4"/>
<text class="tk" transform="translate(72.60,1026.90) rotate(0.05) scale(1.000,1)" font-size="13.4" text-anchor="end">6</text>
<text class="tk" transform="translate(72.60,987.20) rotate(0.05) scale(1.000,1)" font-size="13.4" text-anchor="end">7</text>
<text class="tk" transform="translate(72.60,947.50) rotate(0.05) scale(1.000,1)" font-size="13.4" text-anchor="end">8</text>
<text class="tk" transform="translate(72.60,907.80) rotate(0.05) scale(1.000,1)" font-size="13.4" text-anchor="end">9</text>
<text class="tk" transform="translate(72.60,868.10) rotate(0.05) scale(1.000,1)" font-size="13.4" text-anchor="end">10</text>
<text class="tk" transform="translate(72.60,828.40) rotate(0.05) scale(1.000,1)" font-size="13.4" text-anchor="end">11</text>
<text class="tk" transform="translate(72.60,788.70) rotate(0.05) scale(1.000,1)" font-size="13.4" text-anchor="end">12</text>
<text class="tk" transform="translate(130.00,1051.60) rotate(0.05) scale(1.000,1)" font-size="13.4" text-anchor="middle">1</text>
<text class="tk" transform="translate(202.50,1051.60) rotate(0.05) scale(1.000,1)" font-size="13.4" text-anchor="middle">2</text>
<text class="tk" transform="translate(275.00,1051.60) rotate(0.05) scale(1.000,1)" font-size="13.4" text-anchor="middle">3</text>
<text class="tk" transform="translate(347.50,1051.60) rotate(0.05) scale(1.000,1)" font-size="13.4" text-anchor="middle">4</text>
<text class="st" transform="translate(129.80,789.60) rotate(0.05) scale(1.045,1)" font-size="15.5" text-anchor="middle">r=0.303</text>
<text class="st" transform="translate(128.70,809.40) rotate(0.05) scale(0.997,1)" font-size="15.5" text-anchor="middle">p&lt;0.001</text>
</g>
<g>
<line class="ds" x1="402.4" y1="962.5" x2="682.7" y2="962.5"/>
<g class="d">
<circle cx="541.0" cy="857.6" r="4"/><circle cx="556.0" cy="861.0" r="4"/><circle cx="526.6" cy="870.4" r="4"/><circle cx="523.6" cy="881.0" r="4"/><circle cx="512.4" cy="889.0" r="4"/><circle cx="544.4" cy="888.0" r="4"/><circle cx="555.0" cy="891.0" r="4"/><circle cx="503.0" cy="915.4" r="4"/><circle cx="515.6" cy="913.0" r="4"/><circle cx="514.6" cy="927.0" r="4"/><circle cx="457.0" cy="935.6" r="4"/><circle cx="527.0" cy="941.0" r="4"/><circle cx="531.0" cy="941.0" r="4"/><circle cx="544.6" cy="942.4" r="4"/><circle cx="453.4" cy="958.4" r="4"/><circle cx="574.6" cy="874.6" r="4"/><circle cx="596.0" cy="909.6" r="4"/><circle cx="558.0" cy="923.0" r="4"/><circle cx="584.0" cy="926.0" r="4"/><circle cx="580.0" cy="931.6" r="4"/><circle cx="562.0" cy="937.0" r="4"/><circle cx="493.0" cy="833.6" r="4"/><circle cx="527.4" cy="836.4" r="4"/><circle cx="536.0" cy="857.4" r="4"/><circle cx="532.4" cy="863.4" r="4"/><circle cx="552.0" cy="863.4" r="4"/><circle cx="521.4" cy="867.0" r="4"/><circle cx="467.0" cy="870.6" r="4"/><circle cx="557.0" cy="870.4" r="4"/><circle cx="543.4" cy="876.0" r="4"/><circle cx="523.6" cy="884.6" r="4"/><circle cx="553.6" cy="883.4" r="4"/><circle cx="483.6" cy="887.0" r="4"/><circle cx="505.0" cy="887.4" r="4"/><circle cx="515.6" cy="891.0" r="4"/><circle cx="507.6" cy="895.6" r="4"/><circle cx="543.4" cy="891.0" r="4"/><circle cx="550.6" cy="890.6" r="4"/><circle cx="539.6" cy="898.4" r="4"/><circle cx="556.0" cy="898.0" r="4"/><circle cx="524.4" cy="902.0" r="4"/><circle cx="547.6" cy="902.6" r="4"/><circle cx="455.4" cy="902.8" r="4"/><circle cx="442.4" cy="911.0" r="4"/><circle cx="469.4" cy="913.8" r="4"/><circle cx="493.4" cy="914.0" r="4"/><circle cx="498.4" cy="919.0" r="4"/><circle cx="520.0" cy="914.4" r="4"/><circle cx="550.0" cy="914.0" r="4"/><circle cx="557.0" cy="909.0" r="4"/><circle cx="557.0" cy="915.4" r="4"/><circle cx="530.4" cy="923.0" r="4"/><circle cx="512.4" cy="925.0" r="4"/><circle cx="546.0" cy="924.6" r="4"/><circle cx="494.6" cy="926.4" r="4"/><circle cx="447.4" cy="930.6" r="4"/><circle cx="483.0" cy="930.6" r="4"/><circle cx="553.0" cy="926.6" r="4"/><circle cx="536.6" cy="932.4" r="4"/><circle cx="549.0" cy="933.0" r="4"/><circle cx="454.0" cy="941.0" r="4"/><circle cx="500.6" cy="934.4" r="4"/><circle cx="484.0" cy="940.0" r="4"/><circle cx="517.6" cy="940.0" r="4"/><circle cx="529.4" cy="937.4" r="4"/><circle cx="547.0" cy="938.0" r="4"/><circle cx="466.6" cy="944.0" r="4"/><circle cx="467.6" cy="951.4" r="4"/><circle cx="451.4" cy="954.0" r="4"/><circle cx="502.0" cy="954.0" r="4"/><circle cx="535.4" cy="948.0" r="4"/><circle cx="527.4" cy="950.0" r="4"/><circle cx="524.0" cy="955.6" r="4"/><circle cx="459.4" cy="964.0" r="4"/><circle cx="523.0" cy="965.0" r="4"/><circle cx="441.0" cy="972.4" r="4"/><circle cx="544.0" cy="972.0" r="4"/><circle cx="473.4" cy="977.6" r="4"/><circle cx="483.6" cy="975.6" r="4"/><circle cx="541.0" cy="981.0" r="4"/><circle cx="506.4" cy="989.0" r="4"/><circle cx="463.4" cy="991.8" r="4"/><circle cx="471.4" cy="1003.6" r="4"/><circle cx="527.4" cy="1009.8" r="4"/><circle cx="516.4" cy="1013.4" r="4"/><circle cx="481.0" cy="1018.0" r="4"/><circle cx="443.4" cy="1022.0" r="4"/><circle cx="566.6" cy="846.6" r="4"/><circle cx="598.4" cy="848.4" r="4"/><circle cx="610.0" cy="861.0" r="4"/><circle cx="570.4" cy="861.0" r="4"/><circle cx="571.4" cy="869.0" r="4"/><circle cx="583.6" cy="872.6" r="4"/><circle cx="603.0" cy="876.6" r="4"/><circle cx="579.4" cy="880.6" r="4"/><circle cx="571.6" cy="884.0" r="4"/><circle cx="582.6" cy="889.6" r="4"/><circle cx="596.4" cy="889.0" r="4"/><circle cx="574.4" cy="894.4" r="4"/><circle cx="591.4" cy="894.4" r="4"/><circle cx="606.6" cy="895.4" r="4"/><circle cx="590.4" cy="903.4" r="4"/><circle cx="574.6" cy="911.0" r="4"/><circle cx="593.4" cy="912.6" r="4"/><circle cx="603.0" cy="916.6" r="4"/><circle cx="559.4" cy="928.6" r="4"/><circle cx="584.0" cy="930.6" r="4"/><circle cx="563.6" cy="941.0" r="4"/><circle cx="576.0" cy="948.0" r="4"/><circle cx="591.4" cy="950.4" r="4"/><circle cx="564.4" cy="958.6" r="4"/><circle cx="597.6" cy="958.4" r="4"/><circle cx="585.6" cy="966.0" r="4"/>
</g>
<line class="rg" x1="441.6" y1="953.1" x2="609.0" y2="889.5"/>
<path class="ax" d="M402.5 772.2V1034.0H682.7M402.5 1022.1h-4.2M402.5 982.4h-4.2M402.5 942.7h-4.2M402.5 903.0h-4.2M402.5 863.3h-4.2M402.5 823.6h-4.2M402.5 783.9h-4.2M451.2 1034.0v4.4M523.8 1034.0v4.4M596.3 1034.0v4.4M668.8 1034.0v4.4"/>
<text class="tk" transform="translate(393.90,1026.90) rotate(0.05) scale(1.000,1)" font-size="13.4" text-anchor="end">6</text>
<text class="tk" transform="translate(393.90,987.20) rotate(0.05) scale(1.000,1)" font-size="13.4" text-anchor="end">7</text>
<text class="tk" transform="translate(393.90,947.50) rotate(0.05) scale(1.000,1)" font-size="13.4" text-anchor="end">8</text>
<text class="tk" transform="translate(393.90,907.80) rotate(0.05) scale(1.000,1)" font-size="13.4" text-anchor="end">9</text>
<text class="tk" transform="translate(393.90,868.10) rotate(0.05) scale(1.000,1)" font-size="13.4" text-anchor="end">10</text>
<text class="tk" transform="translate(393.90,828.40) rotate(0.05) scale(1.000,1)" font-size="13.4" text-anchor="end">11</text>
<text class="tk" transform="translate(393.90,788.70) rotate(0.05) scale(1.000,1)" font-size="13.4" text-anchor="end">12</text>
<text class="tk" transform="translate(451.20,1051.60) rotate(0.05) scale(1.000,1)" font-size="13.4" text-anchor="middle">1</text>
<text class="tk" transform="translate(523.75,1051.60) rotate(0.05) scale(1.000,1)" font-size="13.4" text-anchor="middle">2</text>
<text class="tk" transform="translate(596.30,1051.60) rotate(0.05) scale(1.000,1)" font-size="13.4" text-anchor="middle">3</text>
<text class="tk" transform="translate(668.85,1051.60) rotate(0.05) scale(1.000,1)" font-size="13.4" text-anchor="middle">4</text>
<text class="st" transform="translate(451.10,789.60) rotate(0.05) scale(1.045,1)" font-size="15.5" text-anchor="middle">r=0.368</text>
<text class="st" transform="translate(450.00,809.40) rotate(0.05) scale(0.997,1)" font-size="15.5" text-anchor="middle">p&lt;0.001</text>
</g>
</svg>
</body>
</html>
